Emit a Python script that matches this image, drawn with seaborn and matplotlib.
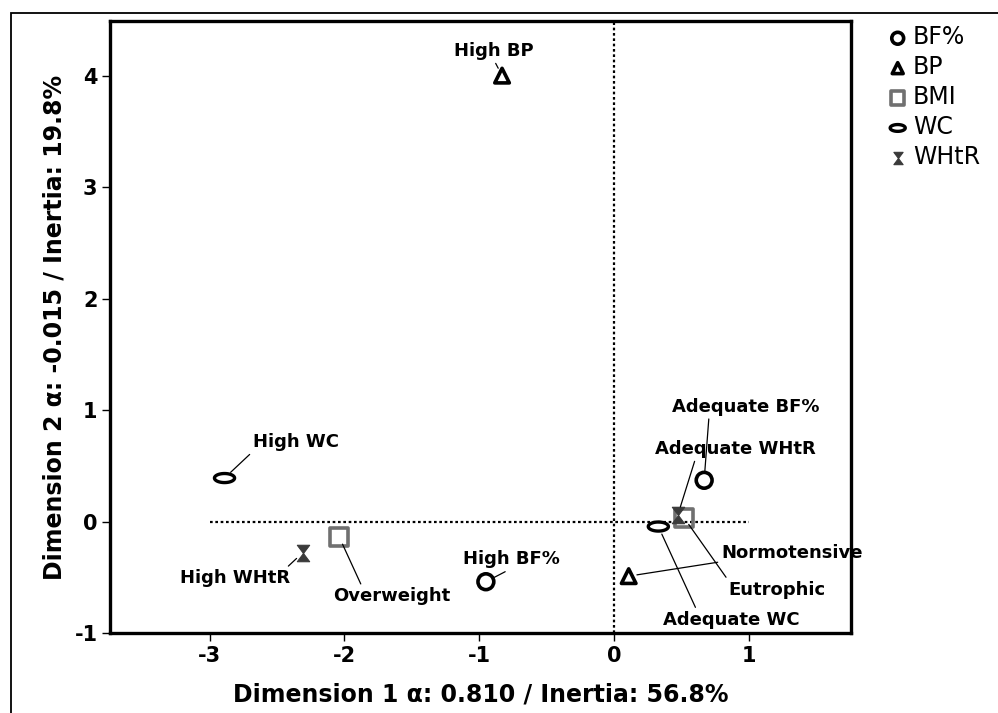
import matplotlib
matplotlib.use("Agg")
import matplotlib.pyplot as plt
from matplotlib.path import Path
from matplotlib.patches import Rectangle
import numpy as np
import seaborn as sns

sns.set_style("white")
plt.rcParams['font.family'] = ['DejaVu Sans']
plt.rcParams['text.color'] = 'black'
plt.rcParams['axes.labelcolor'] = 'black'
plt.rcParams['xtick.color'] = 'black'
plt.rcParams['ytick.color'] = 'black'
plt.rcParams['axes.unicode_minus'] = False

# category points (dimension 1, dimension 2)
variables = ["BF%", "BP", "BMI", "WC", "WHtR"]
labels = {
    "BF%": ["High BF%", "Adequate BF%"],
    "BP": ["High BP", "Normotensive"],
    "BMI": ["Overweight", "Eutrophic"],
    "WC": ["High WC", "Adequate WC"],
    "WHtR": ["High WHtR", "Adequate WHtR"],
}
dim1 = {
    "BF%": [-0.95, 0.67],
    "BP": [-0.83, 0.11],
    "BMI": [-2.04, 0.52],
    "WC": [-2.89, 0.33],
    "WHtR": [-2.31, 0.475],
}
dim2 = {
    "BF%": [-0.54, 0.37],
    "BP": [4.0, -0.49],
    "BMI": [-0.135, 0.035],
    "WC": [0.39, -0.045],
    "WHtR": [-0.28, 0.06],
}
x_ticks = [-3, -2, -1, 0, 1]
y_ticks = [-1, 0, 1, 2, 3, 4]

# label placement: text centre in data units, and where the leader leaves the text
label_pos = {
    "High BF%": ((-0.76, -0.34), (0.5, 0)),
    "Adequate BF%": ((0.98, 1.03), (0.25, 0)),
    "High BP": ((-0.89, 4.22), (0.5, 0)),
    "Normotensive": ((1.32, -0.28), (0, 0)),
    "Overweight": ((-1.65, -0.67), (0.25, 1)),
    "Eutrophic": ((1.21, -0.61), (0, 1)),
    "High WC": ((-2.36, 0.71), (0, 0)),
    "Adequate WC": ((0.87, -0.88), (0.25, 1)),
    "High WHtR": ((-2.81, -0.51), (0.95, 1)),
    "Adequate WHtR": ((0.905, 0.65), (0.25, 0)),
}

# marker shapes
t = np.linspace(0, 2 * np.pi, 60)
ellipse = Path(np.column_stack([np.cos(t), 0.45 * np.sin(t)]), closed=True)
hourglass = Path([(-0.75, 1), (0.75, 1), (-0.75, -1), (0.75, -1), (-0.75, 1)], closed=True)

styles = {
    "BF%": dict(marker="o", s=130, color="none", edgecolor="black", linewidth=2.6),
    "BP": dict(marker="^", s=110, color="none", edgecolor="black", linewidth=2.6),
    "BMI": dict(marker="s", s=170, color="none", edgecolor="#707070", linewidth=2.6),
    "WC": dict(marker=ellipse, s=210, color="none", edgecolor="black", linewidth=2.4),
    "WHtR": dict(marker=hourglass, s=140, color="#3a3a3a", edgecolor="#3a3a3a", linewidth=0.8),
}

fig = plt.figure(figsize=(9.98, 7.13), dpi=100)
ax = fig.add_axes([110 / 998, 1 - 633 / 713, 741 / 998, 612 / 713])

# dotted reference lines
ax.plot([-3, 1], [0, 0], color="black", linestyle=(0, (1.2, 1.2)), linewidth=1.6, zorder=1)
ax.axvline(0, color="black", linestyle=(0, (1.2, 1.2)), linewidth=1.6, zorder=1)

for var in variables:
    sns.scatterplot(x=dim1[var], y=dim2[var], ax=ax, label=var, zorder=3, **styles[var])
    for name, xv, yv in zip(labels[var], dim1[var], dim2[var]):
        (tx, ty), rel = label_pos[name]
        ax.annotate(name, xy=(xv, yv), xytext=(tx, ty), ha="center", va="center",
                    fontsize=13, fontweight="bold",
                    arrowprops=dict(arrowstyle="-", color="black", lw=0.9,
                                    shrinkA=0, shrinkB=6, relpos=rel))

ax.set_xlim(-3.74, 1.76)
ax.set_ylim(-1, 4.49)
ax.set_xticks(x_ticks)
ax.set_yticks(y_ticks)
ax.tick_params(direction="out", length=6, width=1, color="black", labelsize=15, pad=3,
               bottom=True, left=True, top=False, right=False)
for lab in ax.get_xticklabels() + ax.get_yticklabels():
    lab.set_fontweight("bold")
for sp in ax.spines.values():
    sp.set_linewidth(2.4)
    sp.set_color("black")

ax.set_xlabel("Dimension 1 α: 0.810 / Inertia: 56.8%", fontsize=17, fontweight="bold", labelpad=12)
ax.set_ylabel("Dimension 2 α: -0.015 / Inertia: 19.8%", fontsize=17, fontweight="bold", labelpad=6)

ax.legend_.remove()
handles, names = ax.get_legend_handles_labels()
fig.legend(handles, names, loc="upper left", bbox_to_anchor=(880 / 998, 1 - 16 / 713),
           frameon=False, fontsize=17, markerscale=0.75, handlelength=0.7,
           handletextpad=0.3, labelspacing=0.25, borderaxespad=0)

# thin frame around the figure
fig.add_artist(Rectangle((11 / 998, -0.2), 1.5, 1.2 - 13 / 713, transform=fig.transFigure,
                         fill=False, edgecolor="black", linewidth=1.3))

fig.savefig("out.png", dpi=100)
